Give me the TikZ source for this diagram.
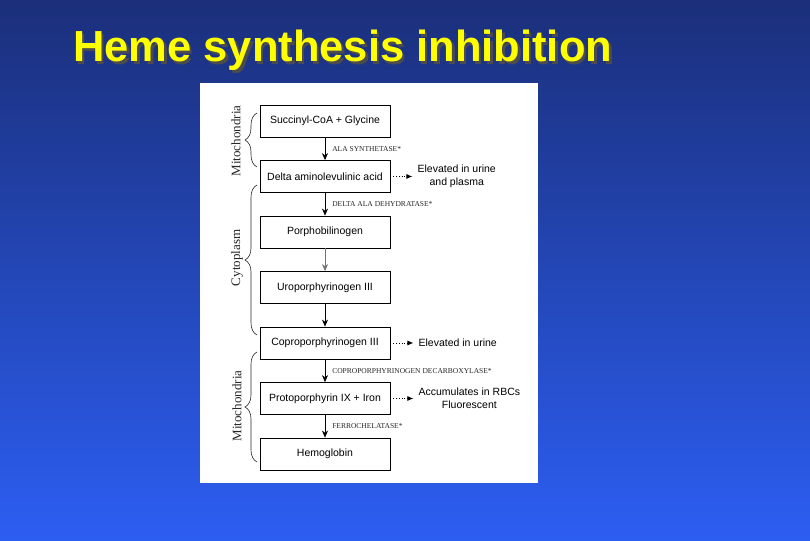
\documentclass[tikz,border=0pt]{standalone}
\usepackage{fontspec}
\setmainfont{Liberation Serif}
\setsansfont{Liberation Sans}
\usepackage{tikz}
\usetikzlibrary{arrows.meta, positioning, decorations.pathreplacing}
\definecolor{slidetop}{RGB}{27,47,122}
\definecolor{slidebottom}{RGB}{44,94,242}
\definecolor{titleyellow}{RGB}{255,255,0}

\begin{document}
\begin{tikzpicture}[x=1pt, y=1pt, node distance=55.5pt]
        \tikzstyle{box} = [rectangle, draw=black, line width=0.8pt, fill=white, minimum width=130pt, minimum height=32pt, text centered, font=\sffamily\fontsize{10.5}{12}\selectfont]
        \tikzstyle{note} = [align=center, inner sep=2pt, font=\sffamily\fontsize{10.5}{13}\selectfont]
        \tikzstyle{enzyme} = [right, xshift=5pt, inner sep=2pt, text=black!85, font=\fontsize{7.5}{9}\selectfont]
        \tikzstyle{region} = [rotate=90, text=black!85, font=\fontsize{13}{15}\selectfont]
        \tikzstyle{title} = [inner sep=0pt, anchor=base west, font=\sffamily\bfseries\fontsize{43.5}{50}\selectfont]
        \tikzstyle{arrow} = [semithick, -{Stealth[length=7pt, width=6pt]}]
        \tikzstyle{dotarrow} = [dotted, thick, -{Latex[length=6pt, width=5pt]}, shorten >=3pt]
        \tikzstyle{brace} = [decorate, decoration={brace, amplitude=12pt}, line width=0.6pt, black!85]

        % slide background and white panel
        \fill[top color=slidetop, bottom color=slidebottom] (0,0) rectangle (810,540);
        \useasboundingbox (0,0) rectangle (810,540);
        \fill[white] (200,57) rectangle (538,457);

        \node (titleshadow) [title, text=black!70] at (75.5,475.5) {Heme synthesis inhibition};
        \node (title) [title, text=titleyellow] at (73,478) {Heme synthesis inhibition};

        % pathway
        \node (succ) [box] at (325,419) {Succinyl-CoA + Glycine};
        \node (ala) [box, below of=succ] {Delta aminolevulinic acid};
        \node (pbg) [box, below of=ala] {Porphobilinogen};
        \node (uro) [box, below of=pbg] {Uroporphyrinogen III};
        \node (copro) [box, below of=uro] {Coproporphyrinogen III};
        \node (proto) [box, below of=copro] {Protoporphyrin IX + Iron};
        \node (hgb) [box, below of=proto] {Hemoglobin};

        \node (urine1) [note, right=25pt of ala] {Elevated in urine\\and plasma};
        \node (urine2) [note, right=26pt of copro] {Elevated in urine};
        \node (rbc) [note, right=26pt of proto] {Accumulates in RBCs\\Fluorescent};

        \draw [arrow] (succ) -- node[enzyme] {ALA SYNTHETASE*} (ala);
        \draw [arrow] (ala) -- node[enzyme] {DELTA ALA DEHYDRATASE*} (pbg);
        \draw [arrow, black!55] (pbg) -- (uro);
        \draw [arrow] (uro) -- (copro);
        \draw [arrow] (copro) -- node[enzyme] {COPROPORPHYRINOGEN DECARBOXYLASE*} (proto);
        \draw [arrow] (proto) -- node[enzyme] {FERROCHELATASE*} (hgb);

        \draw [dotarrow] (ala) -- (urine1);
        \draw [dotarrow] (copro) -- (urine2);
        \draw [dotarrow] (proto) -- (rbc);

        % compartments
        \draw [brace] (257,373) -- (257,427);
        \draw [brace] (257,205) -- (257,355);
        \draw [brace] (257,78) -- (257,188);
        \node (mito1) [region] at (236,399) {Mitochondria};
        \node (cyto) [region] at (237,282) {Cytoplasm};
        \node (mito2) [region] at (237,134) {Mitochondria};
\end{tikzpicture}
\end{document}
